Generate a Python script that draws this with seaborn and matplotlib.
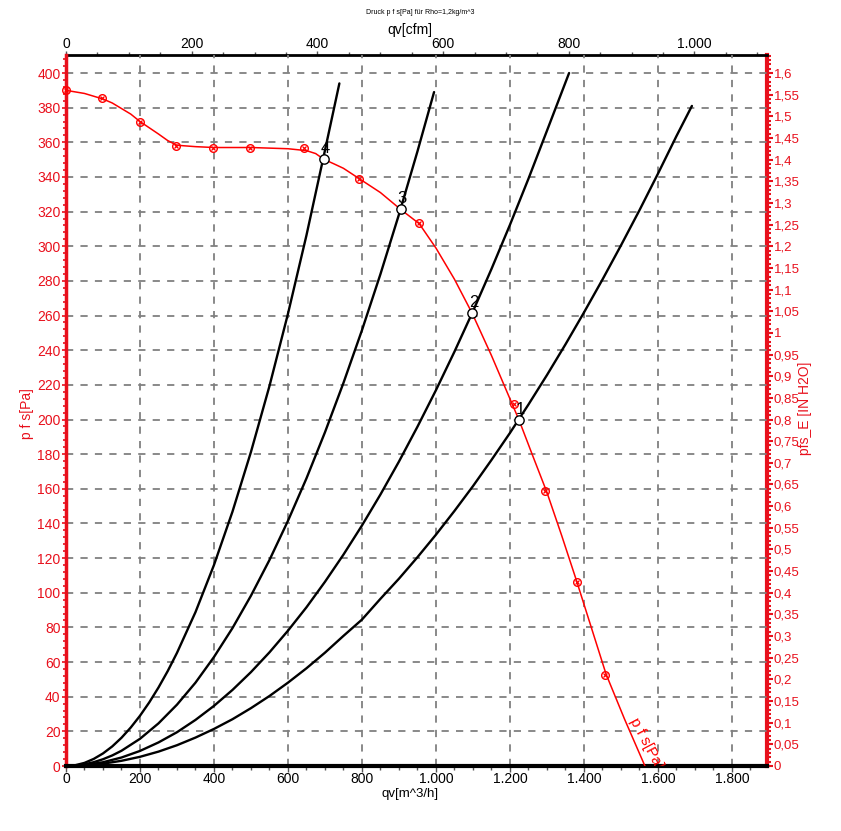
import matplotlib
matplotlib.use("Agg")
import matplotlib.pyplot as plt
import seaborn as sns
import numpy as np
import pandas as pd
from matplotlib.ticker import MultipleLocator, FuncFormatter, FixedLocator

# ---------------- data ----------------
# fan curve p_fs [Pa] vs qv [m^3/h] (line)
fan_q = [0, 50, 100, 125, 150, 175, 200, 225, 250, 275, 300, 325, 350, 400, 500, 600,
         650, 675, 697, 725, 750, 800, 850, 904.5, 955, 1000, 1050, 1098, 1150, 1200,
         1225, 1260, 1300, 1340, 1380, 1420, 1460, 1510, 1565]
fan_p = [390, 388.2, 385, 382.7, 379.5, 376.3, 372, 368.4, 364.8, 361, 358.3, 357.9, 357.5,
         357, 357, 356.3, 355.2, 353.5, 350.2, 347.5, 345, 338, 331, 321.3, 313, 299,
         281, 261.3, 237, 212, 199.5, 180, 158, 133, 107, 80, 53, 27, 0]
# measured points on fan curve
meas_q = [0, 97, 200, 297, 397, 497, 643, 793, 955, 1210, 1296, 1382, 1458]
meas_p = [390, 385.5, 372, 358, 357, 357, 357, 339, 313.5, 209, 159, 106, 52.5]
# operating points
op_q = [1225, 1098, 904.5, 697]
op_p = [199.5, 261.3, 321.3, 350.2]
op_labels = ["1", "2", "3", "4"]
# system curves
sys1_q = [0, 50, 100, 150, 200, 250, 300, 350, 400, 450, 500, 550, 600, 650, 700, 750,
          800, 850, 900, 950, 1000, 1050, 1100, 1150, 1200, 1250, 1300, 1350, 1400,
          1450, 1500, 1550, 1600, 1650, 1692]
sys1_p = [0, 0.33, 1.34, 3.0, 5.3, 8.3, 12.0, 16.4, 21.4, 27.0, 33.4, 40.4, 48.1, 56.4,
          65.4, 75.1, 84.5, 96.5, 108.1, 120.5, 133.5, 147.2, 161.5, 176.6, 192.2, 208.6,
          225.6, 243.3, 261.7, 280.7, 300.4, 320.7, 341.8, 363.5, 381]
sys2_q = [0, 50, 100, 150, 200, 250, 300, 350, 400, 450, 500, 550, 600, 650, 700, 750,
          800, 850, 900, 950, 1000, 1050, 1100, 1150, 1200, 1250, 1300, 1360]
sys2_p = [0, 0.54, 2.17, 4.9, 8.7, 13.6, 19.5, 26.6, 34.7, 43.9, 54.2, 65.6, 78.1, 91.6,
          106.3, 122.0, 138.8, 156.7, 175.7, 195.8, 216.9, 239.1, 262.4, 286.8, 312.3,
          338.9, 366.6, 400]
sys3_q = [0, 25, 50, 75, 100, 125, 150, 200, 250, 300, 350, 400, 450, 500, 550, 600,
          650, 700, 750, 800, 850, 900, 950, 995]
sys3_p = [0, 0.25, 0.98, 2.2, 3.9, 6.1, 8.8, 15.7, 24.6, 35.4, 48.1, 62.9, 79.6, 98.3,
          118.9, 141.5, 166.0, 192.6, 221.1, 251.5, 283.9, 318.3, 354.7, 389]
sys4_q = [0, 25, 50, 75, 100, 125, 150, 175, 200, 225, 250, 275, 300, 350, 400, 450,
          500, 550, 600, 650, 700, 739]
sys4_p = [0, 0.45, 1.8, 4.1, 7.25, 11.3, 16.3, 22.2, 29.0, 36.7, 45.3, 54.8, 65.3, 88.8,
          116, 146.8, 181.3, 219.3, 261, 306.3, 355.3, 394]
# top axis ticks (cfm)
cfm_ticks = [0, 200, 400, 600, 800, 1000]

title = "Druck p f s[Pa] für Rho=1,2kg/m^3"
RED = "#e8101c"

sns.set_theme(style="white")
plt.rcParams["font.family"] = ["Liberation Sans", "DejaVu Sans"]

W, H = 841, 831
fig = plt.figure(figsize=(W / 100, H / 100), dpi=100)
ax = fig.add_axes([66 / W, 1 - 766 / H, 701 / W, 711 / H])

ax.set_xlim(0, 1895)
ax.set_ylim(0, 410.4)

# grid
ax.xaxis.set_major_locator(MultipleLocator(200))
ax.xaxis.set_minor_locator(MultipleLocator(50))
ax.yaxis.set_major_locator(MultipleLocator(20))
ax.yaxis.set_minor_locator(MultipleLocator(4))
ax.grid(True, which="major", linestyle=(0, (4, 4)), color="#808080", linewidth=1.3)

# system curves
for q, p in [(sys1_q, sys1_p), (sys2_q, sys2_p), (sys3_q, sys3_p), (sys4_q, sys4_p)]:
    sns.lineplot(x=q, y=p, ax=ax, color="black", linewidth=1.7, sort=False,
                 estimator=None, zorder=3)

# fan curve
sns.lineplot(x=fan_q, y=fan_p, ax=ax, color="red", linewidth=1.1, sort=False,
             estimator=None, zorder=4)
ax.plot(meas_q, meas_p, linestyle="none", marker="o", markersize=5.5,
        markerfacecolor="none", markeredgecolor="red", markeredgewidth=1.0, zorder=5,
        clip_on=False)
ax.plot(meas_q, meas_p, linestyle="none", marker="x", markersize=3.5,
        markeredgecolor="red", markeredgewidth=0.9, zorder=5, clip_on=False)

# operating points
sns.scatterplot(x=op_q, y=op_p, ax=ax, s=45, color="white", edgecolor="black",
                linewidth=1.0, zorder=6)
for q, p, lab in zip(op_q, op_p, op_labels):
    ax.annotate(lab, (q, p), xytext=(1.0, 2.5), textcoords="offset points",
                ha="center", va="bottom", fontsize=12, color="black", zorder=7)

# curve label
ax.text(1568, 13, "p f s[Pa]", rotation=-62, color="red", fontsize=11,
        ha="center", va="center", rotation_mode="anchor", clip_on=True, zorder=5)

# spines
for s in ["top", "right"]:
    ax.spines[s].set_visible(False)
ax.spines["left"].set_color(RED)
ax.spines["left"].set_linewidth(2.5)
ax.spines["bottom"].set_color("black")
ax.spines["bottom"].set_linewidth(3.0)

thou = FuncFormatter(lambda v, _: f"{v:,.0f}".replace(",", "."))
ax.xaxis.set_major_formatter(thou)
ax.tick_params(axis="x", which="major", direction="out", length=4, width=1,
               color="#555555", labelsize=10, labelcolor="black", pad=0, bottom=True)
ax.tick_params(axis="x", which="minor", direction="out", length=3, width=1,
               color="#555555", bottom=True)
ax.tick_params(axis="y", which="major", direction="out", length=3, width=1.2,
               color=RED, labelsize=10, labelcolor=RED, pad=1, left=True)
ax.tick_params(axis="y", which="minor", direction="out", length=2.5, width=1.2,
               color=RED, left=True)
ax.set_xlabel("")
ax.set_ylabel("")

# right axis (in H2O)
sec_y = ax.secondary_yaxis("right", functions=(lambda p: p / 250.0, lambda v: v * 250.0))
sec_y.spines["right"].set_color(RED)
sec_y.spines["right"].set_linewidth(3)
sec_y.yaxis.set_major_locator(MultipleLocator(0.05))
sec_y.yaxis.set_minor_locator(MultipleLocator(0.01))
sec_y.yaxis.set_major_formatter(FuncFormatter(
    lambda v, _: ("%g" % round(v, 2)).replace(".", ",")))
sec_y.tick_params(axis="y", which="major", direction="out", length=4, width=1.5,
                  color=RED, labelsize=9.5, labelcolor=RED, pad=1)
sec_y.tick_params(axis="y", which="minor", direction="out", length=3, width=1.5,
                  color=RED)
sec_y.xaxis.set_visible(False)

# top axis (cfm)
sec_x = ax.secondary_xaxis("top", functions=(lambda q: q / 1.699, lambda c: c * 1.699))
sec_x.spines["top"].set_color("black")
sec_x.spines["top"].set_linewidth(2)
sec_x.xaxis.set_major_locator(FixedLocator(cfm_ticks))
sec_x.xaxis.set_minor_locator(FixedLocator(list(range(50, 1101, 50))))
sec_x.xaxis.set_major_formatter(thou)
sec_x.tick_params(axis="x", which="major", direction="out", length=3, width=1,
                  color="#555555", labelsize=10, labelcolor="black", pad=0)
sec_x.tick_params(axis="x", which="minor", direction="out", length=2, width=1,
                  color="#555555")
sec_x.yaxis.set_visible(False)

# axis titles and chart title placed in figure pixels
def ftext(x, y, s, **kw):
    fig.text(x / W, 1 - y / H, s, ha="center", va="center", **kw)

ftext(420, 12, title, fontsize=5, color="black")
ftext(410, 30, "qv[cfm]", fontsize=10, color="black")
ftext(410, 794, "qv[m^3/h]", fontsize=9.5, color="black")
ftext(27, 414, "p f s[Pa]", fontsize=10, color=RED, rotation=90)
ftext(805, 408, "pfs_E [IN H2O]", fontsize=10, color=RED, rotation=90)

fig.savefig("out.png", dpi=100, facecolor="white")
